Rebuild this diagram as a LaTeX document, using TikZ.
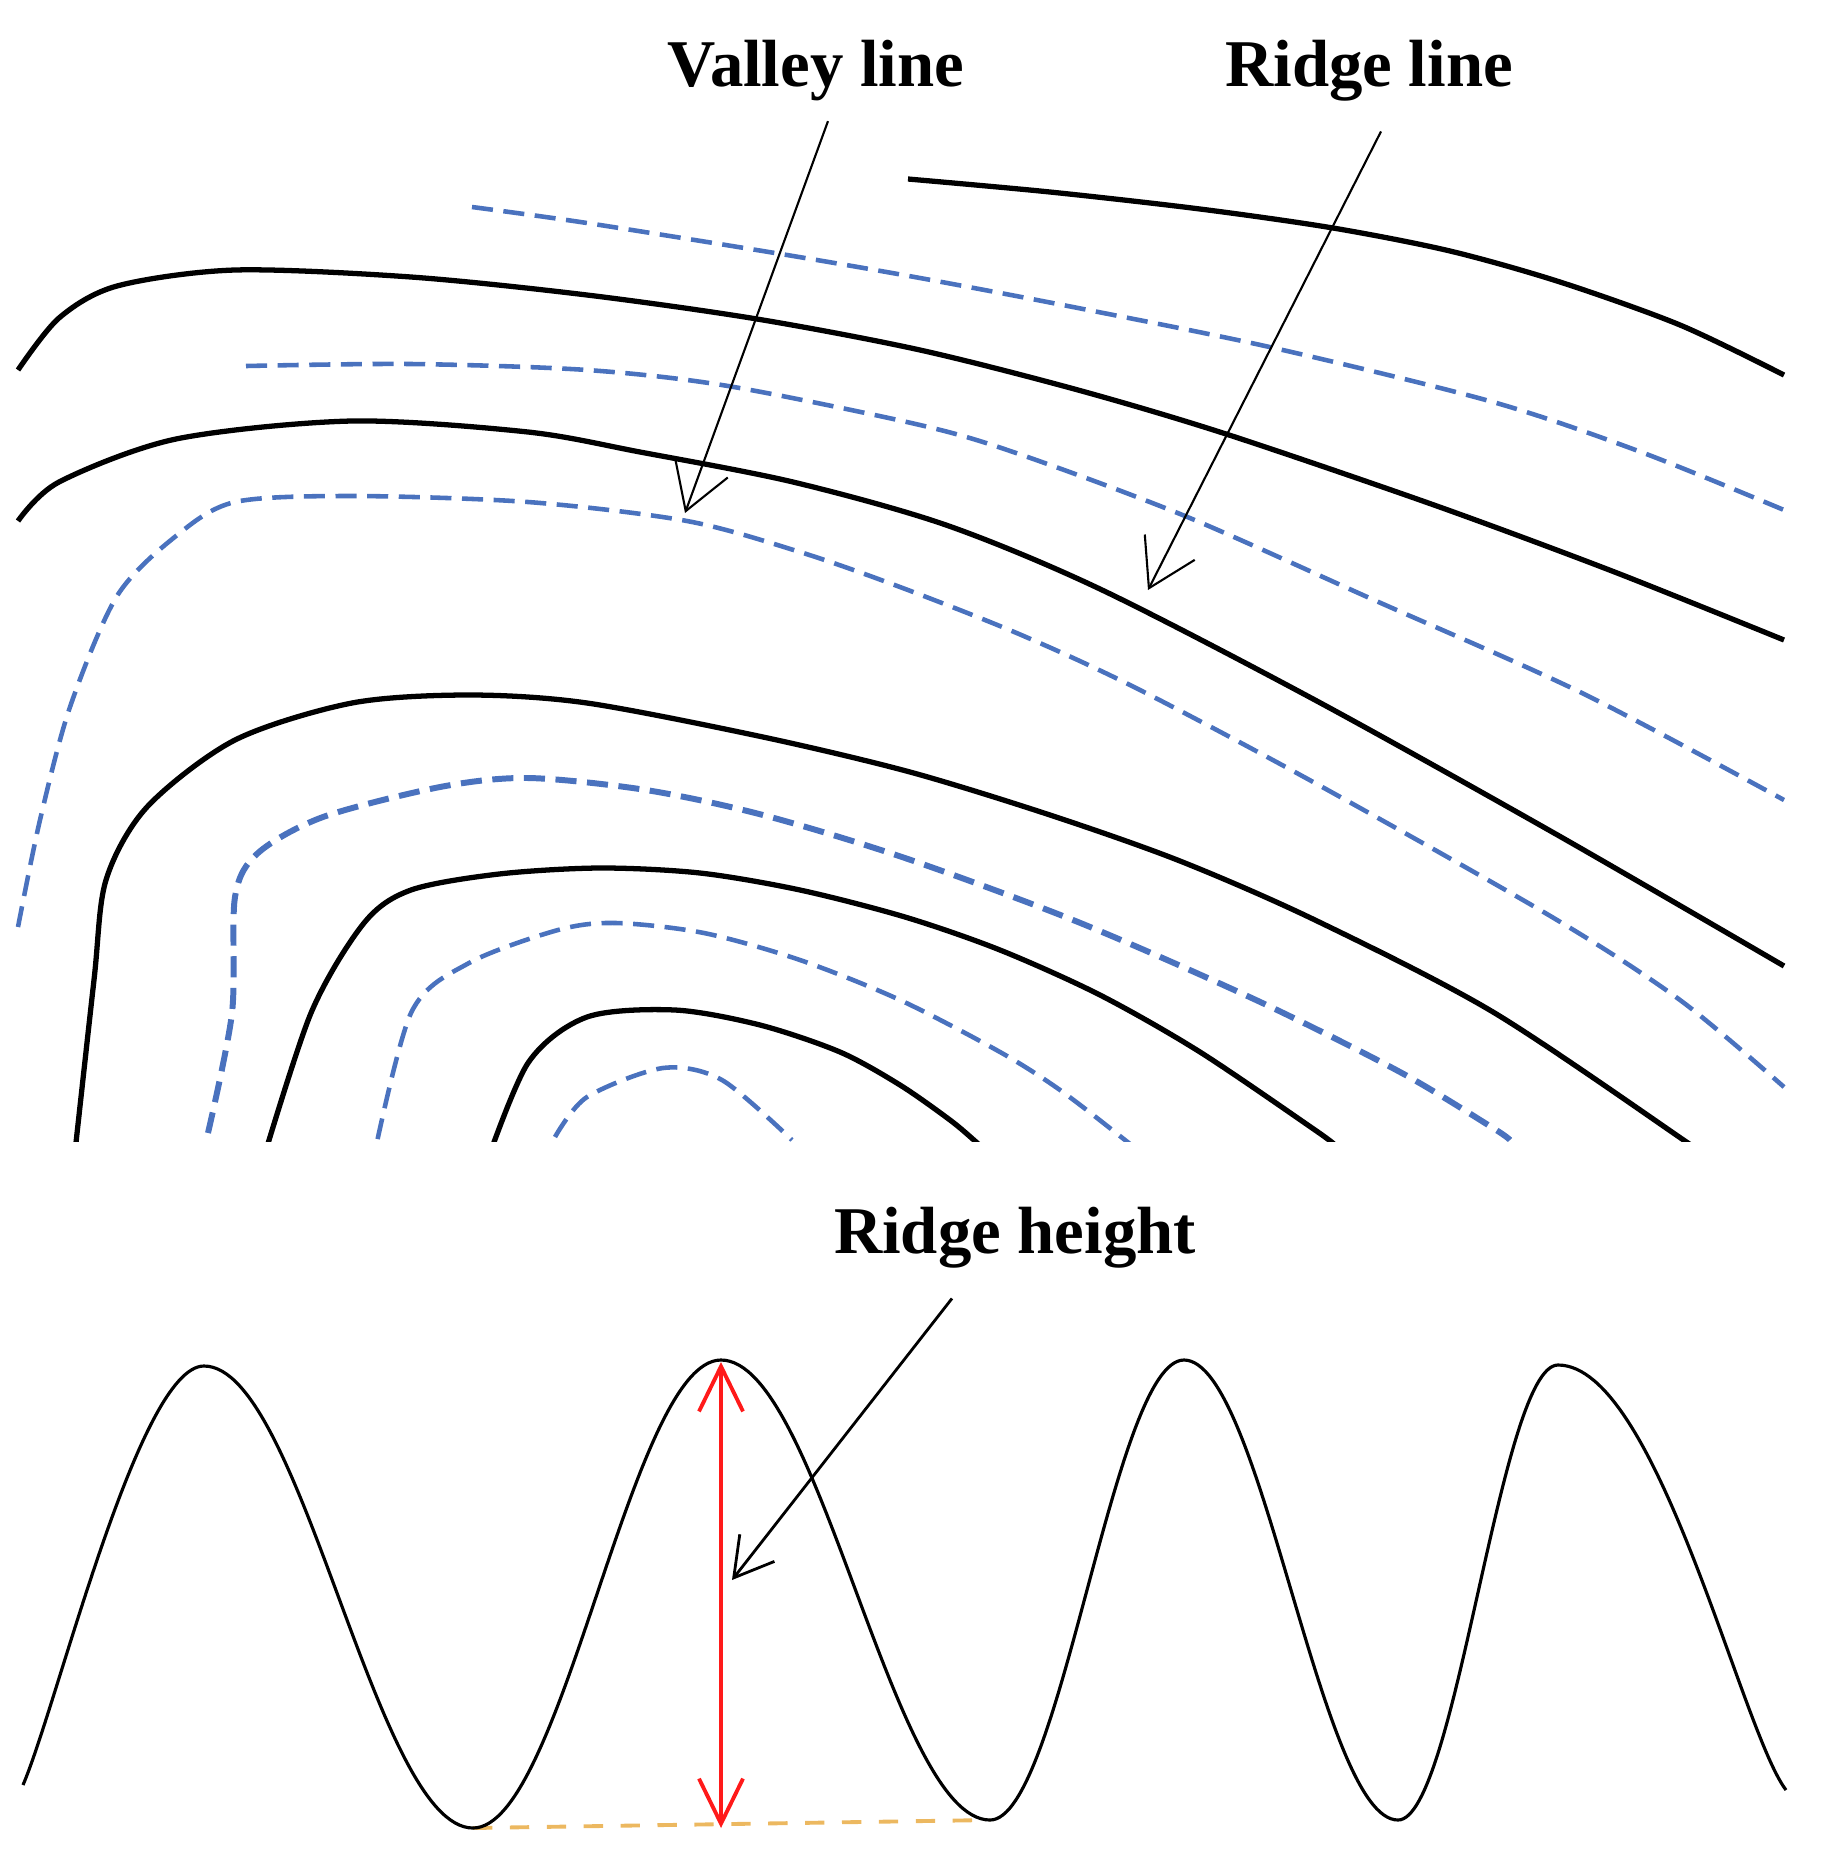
\documentclass[tikz,border=0pt]{standalone}
\usepackage{fontspec}
\setmainfont{Liberation Serif}
\usepackage{tikz}
\usetikzlibrary{arrows.meta,calc}
\definecolor{cRidge}{HTML}{000000}
\definecolor{cValley}{HTML}{4A72BE}
\definecolor{cHeight}{HTML}{FF1A1A}
\definecolor{cBase}{HTML}{ECB860}
\tikzset{
  ridgeln/.style  = {draw=cRidge, line width=1.5pt},
  valleyln/.style = {draw=cValley, line width=1.3pt, dash pattern=on 6pt off 3pt},
  waveln/.style   = {draw=cRidge, line width=0.9pt},
  baseln/.style   = {draw=cBase, line width=1.1pt, dash pattern=on 5.5pt off 5pt},
  pointer/.style  = {-{Straight Barb[length=4.6mm, width=5.6mm]}, line width=0.6pt},
  hpointer/.style = {-{Straight Barb[length=3.8mm, width=4.4mm]}, line width=0.8pt},
  span/.style     = {{Straight Barb[length=4.5mm, width=4.4mm]}-{Straight Barb[length=4.5mm, width=4.4mm]},
                     draw=cHeight, line width=1.1pt},
  lbl/.style      = {font=\fontsize{19}{23}\selectfont\bfseries, inner sep=0pt, anchor=base},
}

\begin{document}
\begin{tikzpicture}[x=0.1mm, y=-0.1mm]
  \useasboundingbox (0,0) rectangle (1830,1874);

  \begin{scope}
    \clip (0,0) rectangle (1830,1141);
    \draw[ridgeln] plot[smooth] coordinates {(908,179) (1050,192) (1200,209) (1333,228) (1450,251) (1560,282)
      (1680,325) (1784,375)};
    \draw[valleyln] plot[smooth] coordinates {(472,207) (587,223) (781,254) (920,278) (1078,308) (1274,348)
      (1493,402) (1641,452) (1784,510)};
    \draw[ridgeln] plot[smooth] coordinates {(18,370) (59,318) (117,286) (235,270) (411,277) (587,295) (757,319)
      (920,350) (1078,390) (1226,434) (1434,505) (1612,571) (1784,640)};
    \draw[valleyln] plot[smooth] coordinates {(246,366) (411,364) (587,370) (728,386) (920,425) (1019,454)
      (1185,516) (1374,600) (1582,693) (1784,800)};
    \draw[ridgeln] plot[smooth] coordinates {(18,521) (59,482) (176,439) (352,421) (528,432) (640,452) (793,482)
      (946,525) (1100,589) (1315,700) (1554,833) (1784,966)};
    \draw[valleyln] plot[smooth] coordinates {(18,927) (40,820) (70,707) (117,596) (176,536) (235,502) (352,496)
      (528,502) (687,521) (800,552) (900,587) (1019,634) (1136,688) (1315,783) (1552,917) (1680,1000) (1784,1087)};
    \draw[ridgeln] plot[smooth] coordinates {(73,1170) (94,980) (106,880) (147,807) (235,740) (352,703) (469,695)
      (587,703) (763,737) (910,772) (1050,815) (1180,861) (1315,920) (1493,1012) (1685,1141) (1710,1160)};
    \draw[valleyln, line width=1.7pt] plot[smooth] coordinates {(208,1133) (232,1013) (235,897) (258,853) (323,817)
      (440,787) (528,778) (646,790) (763,815) (905,858) (1078,922) (1256,1000) (1400,1072) (1493,1128) (1510,1140)};
    \draw[ridgeln] plot[smooth] coordinates {(260,1170) (311,1013) (364,923) (411,890) (499,874) (600,868)
      (700,873) (800,890) (905,917) (1000,950) (1100,995) (1200,1052) (1315,1130) (1335,1145)};
    \draw[valleyln] plot[smooth] coordinates {(371,1170) (411,1013) (469,963) (558,930) (616,923) (704,933)
      (800,960) (900,1000) (1000,1052) (1060,1090) (1125,1140) (1140,1153)};
    \draw[ridgeln] plot[smooth] coordinates {(484,1170) (528,1063) (587,1017) (675,1010) (760,1025) (840,1052)
      (900,1085) (950,1120) (975,1141) (990,1155)};
    \draw[valleyln] plot[smooth] coordinates {(555,1137) (587,1097) (663,1068) (722,1080) (792,1140)};
  \end{scope}

  \node[lbl] (valley) at (816,86) {Valley line};
  \node[lbl] (ridge) at (1369,86) {Ridge line};
  \coordinate (vtip) at (685,513);
  \coordinate (rtip) at (1148,590);
  \draw[pointer] ([xshift=1.2mm, yshift=-2mm]valley.south) -- (vtip);
  \draw[pointer] ([xshift=1.2mm, yshift=-3mm]ridge.south) -- (rtip);

  \coordinate (low1) at (473,1828);
  \coordinate (low2) at (990,1820);
  \coordinate (top) at (721,1362);
  \coordinate (foot) at (721,1828);
  \draw[baseln] (low1) -- (low2);
  \draw[waveln] (23,1785) .. controls (58,1703) and (139,1366) .. (204,1366)
    .. controls (301.8,1366) and (375.2,1828) .. (low1)
    .. controls (563.1,1828) and (630.9,1360) .. (721,1360)
    .. controls (818.8,1360) and (892.2,1820) .. (low2)
    .. controls (1060.5,1820) and (1113.5,1360) .. (1184,1360)
    .. controls (1261.8,1360) and (1320.2,1820) .. (1398,1820)
    .. controls (1456.1,1820) and (1499.9,1365) .. (1558,1365)
    .. controls (1657,1365) and (1741,1731) .. (1786,1790);
  \draw[span] (foot) -- (top);

  \node[lbl] (height) at (1015,1253) {Ridge height};
  \coordinate (htip) at (732,1580);
  \draw[hpointer] ([xshift=-6.3mm, yshift=-3mm]height.south) -- (htip);
\end{tikzpicture}
\end{document}
